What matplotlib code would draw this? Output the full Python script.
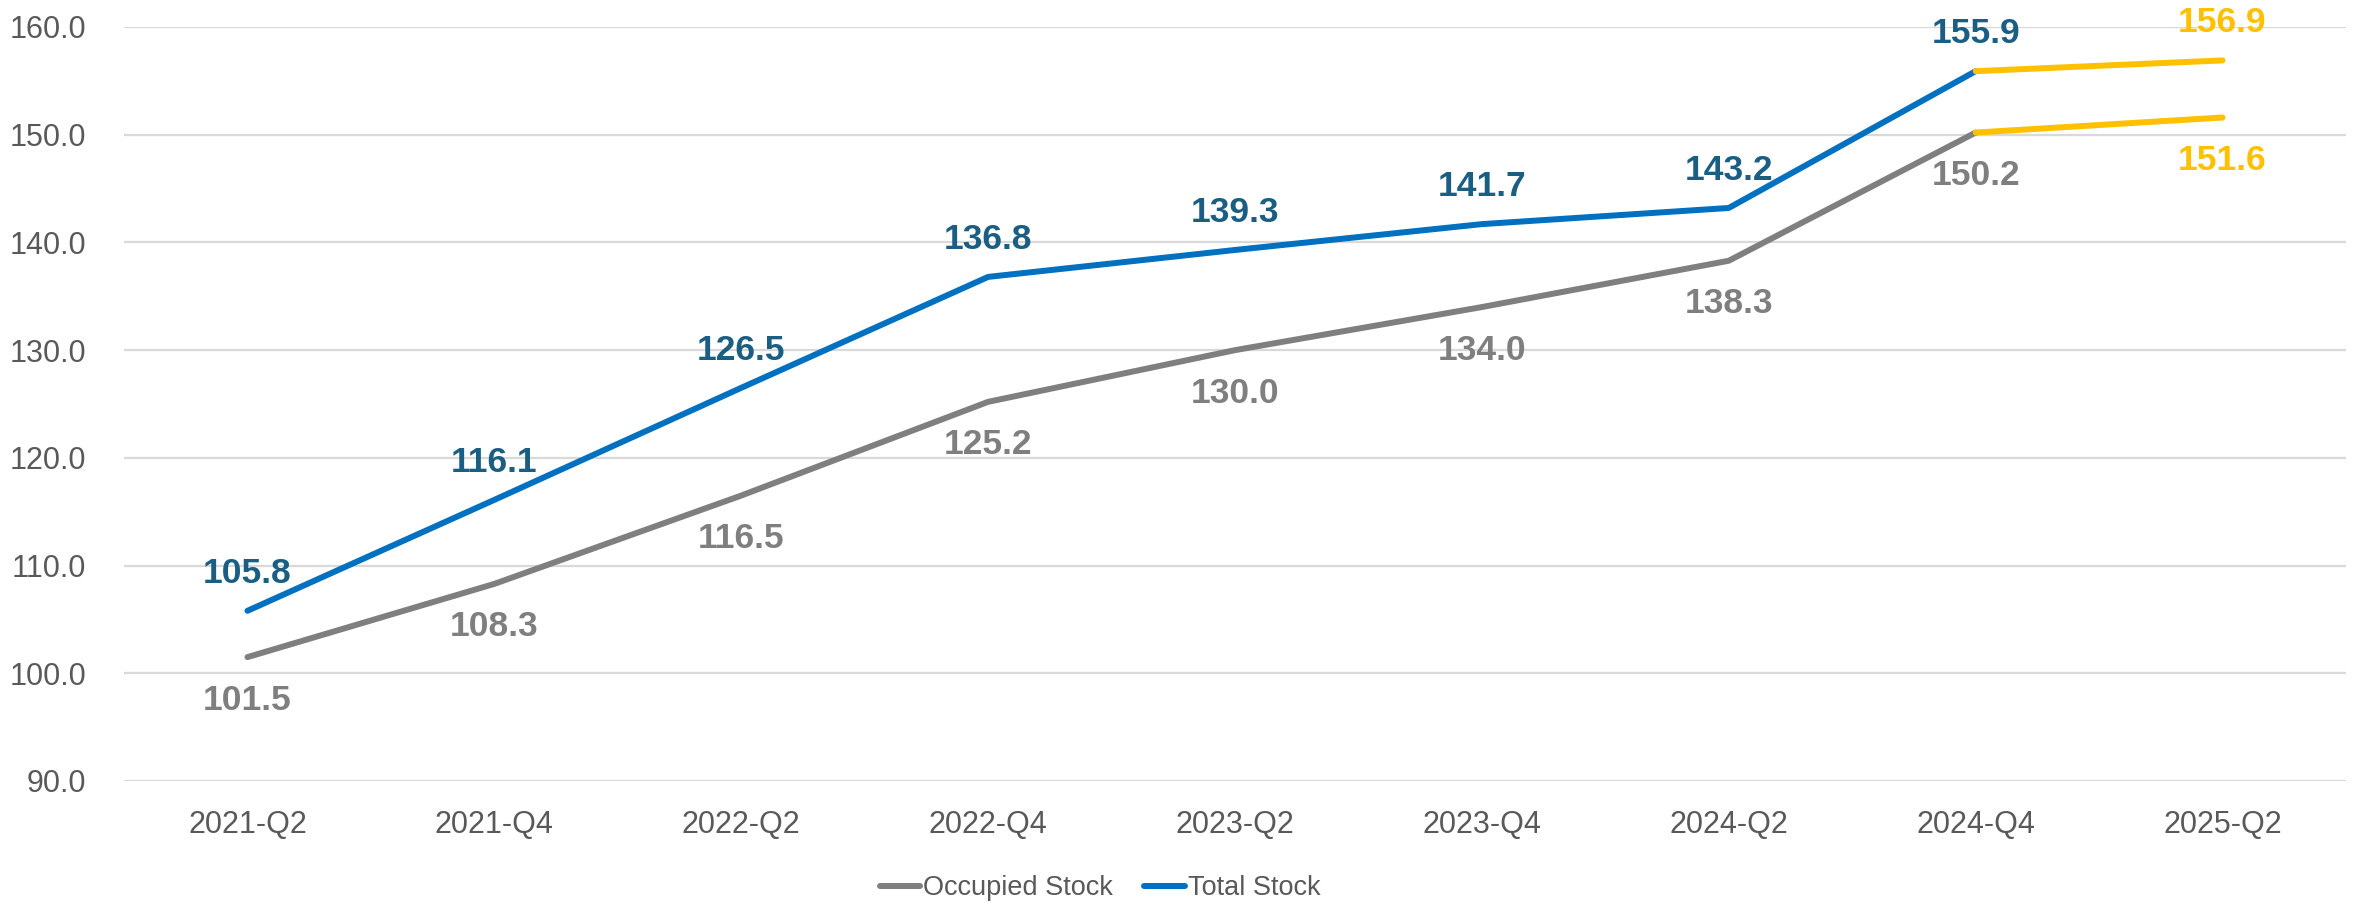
import matplotlib
matplotlib.use('Agg')
import matplotlib.pyplot as plt
from matplotlib import font_manager

quarters = ['2021-Q2', '2021-Q4', '2022-Q2', '2022-Q4', '2023-Q2',
            '2023-Q4', '2024-Q2', '2024-Q4', '2025-Q2']
occupied = [101.5, 108.3, 116.5, 125.2, 130.0, 134.0, 138.3, 150.2, 151.6]
total = [105.8, 116.1, 126.5, 136.8, 139.3, 141.7, 143.2, 155.9, 156.9]
n_actual = 8  # the last point is a forecast, drawn in yellow

gris = '#7F7F7F'
azul = '#0070C0'
azul_txt = '#1A5E83'
amarillo = '#FFC000'

plt.rcParams['font.family'] = ['Liberation Sans', 'DejaVu Sans']
nombres = {f.name for f in font_manager.fontManager.ttflist}
fuente_leyenda = 'Liberation Sans Narrow' if 'Liberation Sans Narrow' in nombres else 'Liberation Sans'

fig = plt.figure(figsize=(23.56, 9.15), dpi=100)
ax = fig.add_axes([124 / 2356, 1 - 781 / 915, (2346 - 124) / 2356, (781 - 27) / 915])

x = list(range(len(quarters)))
lw = 4.3

ax.plot(x[:n_actual], occupied[:n_actual], color=gris, lw=lw, solid_capstyle='round',
        label='Occupied Stock', zorder=3)
ax.plot(x[:n_actual], total[:n_actual], color=azul, lw=lw, solid_capstyle='round',
        label='Total Stock', zorder=3)
ax.plot(x[n_actual - 1:], occupied[n_actual - 1:], color=amarillo, lw=lw,
        solid_capstyle='round', zorder=3)
ax.plot(x[n_actual - 1:], total[n_actual - 1:], color=amarillo, lw=lw,
        solid_capstyle='round', zorder=3)

# etiquetas de datos
for i in x:
    c_occ = gris if i < n_actual else amarillo
    c_tot = azul_txt if i < n_actual else amarillo
    ax.annotate(f'{occupied[i]:.1f}', (i, occupied[i]), xytext=(0, -31),
                textcoords='offset points', ha='center', va='center',
                fontsize=25.5, fontweight='bold', color=c_occ)
    ax.annotate(f'{total[i]:.1f}', (i, total[i]), xytext=(0, 27),
                textcoords='offset points', ha='center', va='center',
                fontsize=25.5, fontweight='bold', color=c_tot)

ax.set_xlim(-0.5, len(quarters) - 0.5)
ax.set_ylim(90, 160)
ax.set_yticks(range(90, 161, 10))
ax.set_yticklabels([f'{v:.1f}' for v in range(90, 161, 10)])
ax.set_xticks(x)
ax.set_xticklabels(quarters)
ax.tick_params(axis='both', length=0, labelsize=22, labelcolor='#595959')
ax.tick_params(axis='x', pad=21)
ax.tick_params(axis='y', pad=27)
ax.grid(axis='y', color='#D9D9D9', lw=1.6, zorder=0)
for s in ax.spines.values():
    s.set_visible(False)

fig.legend(loc='center', bbox_to_anchor=(1100 / 2356, 1 - 888 / 915), ncol=2,
           frameon=False, handlelength=1.5, handletextpad=0.1, columnspacing=1.15,
           prop={'family': fuente_leyenda, 'size': 19.5}, labelcolor='#595959')

fig.savefig('out.png', dpi=100, facecolor='white')
